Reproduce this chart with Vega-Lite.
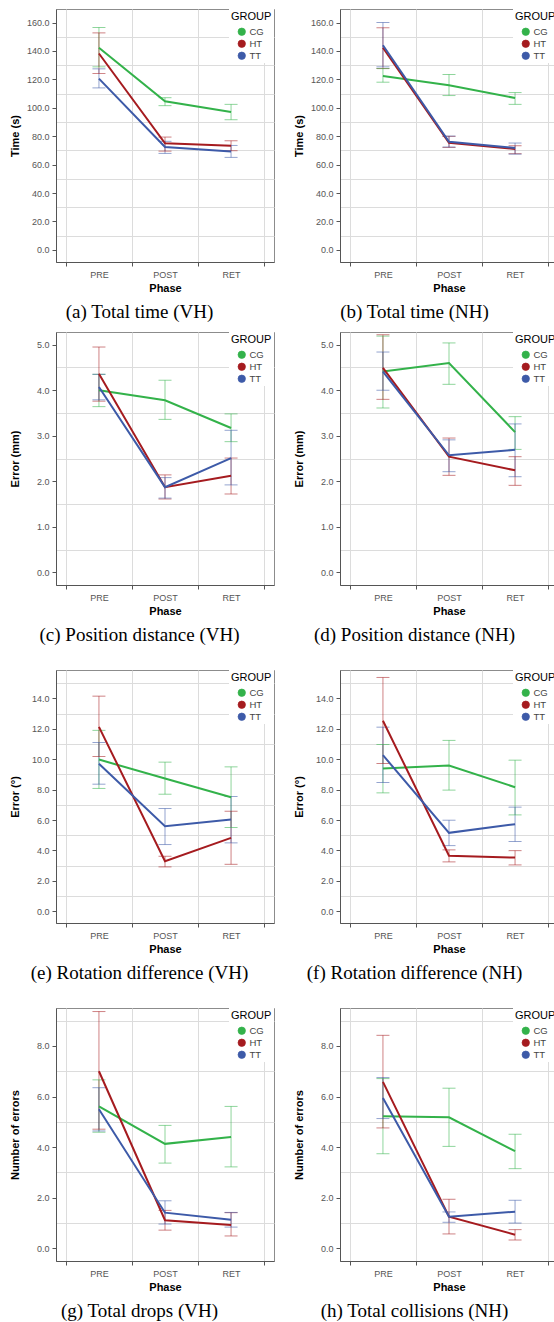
{
  "$schema": "https://vega.github.io/schema/vega-lite/v6.json",
  "padding": {"left": 8, "top": 8, "right": 0, "bottom": 0},
  "background": "white",
  "config": {
    "view": {"stroke": "#8c8c8c", "strokeWidth": 1},
    "axis": {"labelFont": "Liberation Sans", "labelFontSize": 9, "labelColor": "#555", "titleFont": "Liberation Sans", "titleFontSize": 11, "titleFontWeight": "bold", "titleColor": "#000", "domainColor": "#555", "tickColor": "#555", "tickSize": 4, "gridColor": "#dcdcdc", "gridWidth": 1},
    "axisY": {"grid": true, "labelOverlap": false, "labelPadding": 3, "titleX": -41, "titleBaseline": "middle"},
    "axisX": {"labelAngle": 0, "tickBand": "extent", "grid": true, "labelPadding": 4, "titleY": 20, "titleBaseline": "top"},
    "legend": {"orient": "top-right", "offset": 0, "fillColor": "white", "padding": 2, "titleFont": "Liberation Sans", "titleFontSize": 11, "titleFontWeight": "normal", "titleColor": "#000", "titlePadding": 5, "labelFont": "Liberation Sans", "labelFontSize": 9.5, "labelColor": "#444", "labelOffset": 3, "symbolOffset": 6, "symbolType": "circle", "symbolSize": 55, "symbolStrokeColor": "#333", "symbolStrokeWidth": 0.7, "rowPadding": 1},
    "title": {"orient": "bottom", "anchor": "middle", "frame": "bounds", "font": "Liberation Serif", "fontSize": 19, "fontWeight": "normal", "color": "#000", "offset": 10},
    "line": {"strokeWidth": 2}
  },
  "datasets": {
    "d": [
      {"p":"a","group":"CG","phase":"PRE","m":142.2,"lo":128.8,"hi":156.5},
      {"p":"a","group":"CG","phase":"POST","m":104.6,"lo":101.5,"hi":107.1},
      {"p":"a","group":"CG","phase":"RET","m":97.0,"lo":91.6,"hi":102.4},
      {"p":"a","group":"HT","phase":"PRE","m":138.2,"lo":124.1,"hi":152.7},
      {"p":"a","group":"HT","phase":"POST","m":75.0,"lo":69.5,"hi":79.4},
      {"p":"a","group":"HT","phase":"RET","m":73.3,"lo":69.8,"hi":76.8},
      {"p":"a","group":"TT","phase":"PRE","m":120.5,"lo":114.0,"hi":127.4},
      {"p":"a","group":"TT","phase":"POST","m":72.4,"lo":67.9,"hi":76.4},
      {"p":"a","group":"TT","phase":"RET","m":69.3,"lo":65.1,"hi":73.5},

      {"p":"b","group":"CG","phase":"PRE","m":122.4,"lo":118.0,"hi":127.6},
      {"p":"b","group":"CG","phase":"POST","m":115.8,"lo":108.6,"hi":123.4},
      {"p":"b","group":"CG","phase":"RET","m":106.9,"lo":102.4,"hi":110.7},
      {"p":"b","group":"HT","phase":"PRE","m":142.2,"lo":127.6,"hi":156.3},
      {"p":"b","group":"HT","phase":"POST","m":75.4,"lo":72.1,"hi":79.9},
      {"p":"b","group":"HT","phase":"RET","m":71.0,"lo":67.7,"hi":73.3},
      {"p":"b","group":"TT","phase":"PRE","m":144.0,"lo":128.8,"hi":160.0},
      {"p":"b","group":"TT","phase":"POST","m":76.1,"lo":72.4,"hi":80.1},
      {"p":"b","group":"TT","phase":"RET","m":71.7,"lo":67.4,"hi":75.2},

      {"p":"c","group":"CG","phase":"PRE","m":4.0,"lo":3.64,"hi":4.35},
      {"p":"c","group":"CG","phase":"POST","m":3.78,"lo":3.36,"hi":4.22},
      {"p":"c","group":"CG","phase":"RET","m":3.17,"lo":2.87,"hi":3.48},
      {"p":"c","group":"HT","phase":"PRE","m":4.36,"lo":3.76,"hi":4.95},
      {"p":"c","group":"HT","phase":"POST","m":1.87,"lo":1.61,"hi":2.14},
      {"p":"c","group":"HT","phase":"RET","m":2.12,"lo":1.72,"hi":2.51},
      {"p":"c","group":"TT","phase":"PRE","m":4.07,"lo":3.79,"hi":4.35},
      {"p":"c","group":"TT","phase":"POST","m":1.87,"lo":1.63,"hi":2.08},
      {"p":"c","group":"TT","phase":"RET","m":2.51,"lo":1.92,"hi":3.12},

      {"p":"d","group":"CG","phase":"PRE","m":4.41,"lo":3.61,"hi":5.19},
      {"p":"d","group":"CG","phase":"POST","m":4.60,"lo":4.13,"hi":5.04},
      {"p":"d","group":"CG","phase":"RET","m":3.08,"lo":2.70,"hi":3.42},
      {"p":"d","group":"HT","phase":"PRE","m":4.49,"lo":3.80,"hi":5.22},
      {"p":"d","group":"HT","phase":"POST","m":2.54,"lo":2.13,"hi":2.95},
      {"p":"d","group":"HT","phase":"RET","m":2.24,"lo":1.91,"hi":2.54},
      {"p":"d","group":"TT","phase":"PRE","m":4.41,"lo":4.0,"hi":4.84},
      {"p":"d","group":"TT","phase":"POST","m":2.57,"lo":2.21,"hi":2.91},
      {"p":"d","group":"TT","phase":"RET","m":2.69,"lo":2.10,"hi":3.26},

      {"p":"e","group":"CG","phase":"PRE","m":9.98,"lo":8.08,"hi":11.9},
      {"p":"e","group":"CG","phase":"POST","m":8.73,"lo":7.70,"hi":9.81},
      {"p":"e","group":"CG","phase":"RET","m":7.5,"lo":5.51,"hi":9.5},
      {"p":"e","group":"HT","phase":"PRE","m":12.13,"lo":10.18,"hi":14.15},
      {"p":"e","group":"HT","phase":"POST","m":3.29,"lo":2.92,"hi":3.62},
      {"p":"e","group":"HT","phase":"RET","m":4.83,"lo":3.09,"hi":6.58},
      {"p":"e","group":"TT","phase":"PRE","m":9.7,"lo":8.36,"hi":11.1},
      {"p":"e","group":"TT","phase":"POST","m":5.6,"lo":4.39,"hi":6.76},
      {"p":"e","group":"TT","phase":"RET","m":6.03,"lo":4.5,"hi":7.55},

      {"p":"f","group":"CG","phase":"PRE","m":9.39,"lo":7.79,"hi":10.97},
      {"p":"f","group":"CG","phase":"POST","m":9.59,"lo":7.97,"hi":11.24},
      {"p":"f","group":"CG","phase":"RET","m":8.16,"lo":6.34,"hi":9.94},
      {"p":"f","group":"HT","phase":"PRE","m":12.53,"lo":9.72,"hi":15.38},
      {"p":"f","group":"HT","phase":"POST","m":3.66,"lo":3.25,"hi":4.04},
      {"p":"f","group":"HT","phase":"RET","m":3.53,"lo":3.05,"hi":3.99},
      {"p":"f","group":"TT","phase":"PRE","m":10.27,"lo":8.47,"hi":12.11},
      {"p":"f","group":"TT","phase":"POST","m":5.16,"lo":4.32,"hi":5.99},
      {"p":"f","group":"TT","phase":"RET","m":5.73,"lo":4.59,"hi":6.85},

      {"p":"g","group":"CG","phase":"PRE","m":5.61,"lo":4.59,"hi":6.66},
      {"p":"g","group":"CG","phase":"POST","m":4.13,"lo":3.37,"hi":4.86},
      {"p":"g","group":"CG","phase":"RET","m":4.40,"lo":3.22,"hi":5.61},
      {"p":"g","group":"HT","phase":"PRE","m":7.0,"lo":4.71,"hi":9.36},
      {"p":"g","group":"HT","phase":"POST","m":1.11,"lo":0.72,"hi":1.50},
      {"p":"g","group":"HT","phase":"RET","m":0.92,"lo":0.49,"hi":1.41},
      {"p":"g","group":"TT","phase":"PRE","m":5.50,"lo":4.64,"hi":6.35},
      {"p":"g","group":"TT","phase":"POST","m":1.41,"lo":0.96,"hi":1.88},
      {"p":"g","group":"TT","phase":"RET","m":1.13,"lo":0.84,"hi":1.42},

      {"p":"h","group":"CG","phase":"PRE","m":5.22,"lo":3.74,"hi":6.71},
      {"p":"h","group":"CG","phase":"POST","m":5.18,"lo":4.03,"hi":6.33},
      {"p":"h","group":"CG","phase":"RET","m":3.84,"lo":3.15,"hi":4.51},
      {"p":"h","group":"HT","phase":"PRE","m":6.58,"lo":4.76,"hi":8.42},
      {"p":"h","group":"HT","phase":"POST","m":1.25,"lo":0.57,"hi":1.94},
      {"p":"h","group":"HT","phase":"RET","m":0.54,"lo":0.33,"hi":0.74},
      {"p":"h","group":"TT","phase":"PRE","m":5.94,"lo":5.13,"hi":6.75},
      {"p":"h","group":"TT","phase":"POST","m":1.25,"lo":1.03,"hi":1.44},
      {"p":"h","group":"TT","phase":"RET","m":1.45,"lo":1.0,"hi":1.90}
    ]
  },
  "data": {"name": "d"},
  "spacing": 8,
  "resolve": {"scale": {"color": "independent"}, "legend": {"color": "independent"}},
  "vconcat": [
    {
      "spacing": 17,
      "resolve": {"scale": {"color": "independent"}, "legend": {"color": "independent"}},
      "hconcat": [
        {
          "width": 218, "height": 253,
          "title": {"text": "(a) Total time (VH)", "dx": -2},
          "transform": [{"filter": "datum.p === 'a'"}],
          "encoding": {
            "x": {"field": "phase", "type": "nominal", "sort": ["PRE","POST","RET"], "bandPosition": 0.5, "scale": {"type": "band", "paddingInner": 0, "paddingOuter": 0.15}, "title": "Phase"},
            "color": {"field": "group", "type": "nominal", "scale": {"domain": ["CG","HT","TT"], "range": ["#33b24a","#a51b1f","#3d5aa8"]}, "legend": {"title": "GROUP"}}
          },
          "layer": [
            {"mark": {"type": "circle", "size": 0, "opacity": 1}, "encoding": {"y": {"field": "m", "type": "quantitative", "title": "Time (s)", "scale": {"domain": [-8.5, 169.5], "nice": false, "zero": false}, "axis": {"values": [0,10,20,30,40,50,60,70,80,90,100,110,120,130,140,150,160], "labelExpr": "datum.value % 20 === 0 ? format(datum.value, '.1f') : ''", "gridColor": {"condition": {"test": "datum.value % 20 !== 0", "value": "#dcdcdc"}, "value": "transparent"}, "tickColor": {"condition": {"test": "datum.value % 20 === 0", "value": "#555"}, "value": "transparent"}}}}},
            {"mark": {"type": "rule", "opacity": 0.55}, "encoding": {"y": {"field": "lo", "type": "quantitative", "title": "Time (s)", "axis": {"values": [0,10,20,30,40,50,60,70,80,90,100,110,120,130,140,150,160], "labelExpr": "datum.value % 20 === 0 ? format(datum.value, '.1f') : ''", "gridColor": {"condition": {"test": "datum.value % 20 !== 0", "value": "#dcdcdc"}, "value": "transparent"}, "tickColor": {"condition": {"test": "datum.value % 20 === 0", "value": "#555"}, "value": "transparent"}}}, "y2": {"field": "hi"}}},
            {"mark": {"type": "tick", "orient": "horizontal", "size": 13, "thickness": 1, "opacity": 0.55}, "encoding": {"y": {"field": "lo", "type": "quantitative", "title": "Time (s)", "axis": {"values": [0,10,20,30,40,50,60,70,80,90,100,110,120,130,140,150,160], "labelExpr": "datum.value % 20 === 0 ? format(datum.value, '.1f') : ''", "gridColor": {"condition": {"test": "datum.value % 20 !== 0", "value": "#dcdcdc"}, "value": "transparent"}, "tickColor": {"condition": {"test": "datum.value % 20 === 0", "value": "#555"}, "value": "transparent"}}}}},
            {"mark": {"type": "tick", "orient": "horizontal", "size": 13, "thickness": 1, "opacity": 0.55}, "encoding": {"y": {"field": "hi", "type": "quantitative", "title": "Time (s)", "axis": {"values": [0,10,20,30,40,50,60,70,80,90,100,110,120,130,140,150,160], "labelExpr": "datum.value % 20 === 0 ? format(datum.value, '.1f') : ''", "gridColor": {"condition": {"test": "datum.value % 20 !== 0", "value": "#dcdcdc"}, "value": "transparent"}, "tickColor": {"condition": {"test": "datum.value % 20 === 0", "value": "#555"}, "value": "transparent"}}}}},
            {"mark": {"type": "line"}, "encoding": {"y": {"field": "m", "type": "quantitative", "title": "Time (s)", "axis": {"values": [0,10,20,30,40,50,60,70,80,90,100,110,120,130,140,150,160], "labelExpr": "datum.value % 20 === 0 ? format(datum.value, '.1f') : ''", "gridColor": {"condition": {"test": "datum.value % 20 !== 0", "value": "#dcdcdc"}, "value": "transparent"}, "tickColor": {"condition": {"test": "datum.value % 20 === 0", "value": "#555"}, "value": "transparent"}}}, "order": {"value": null}}}
          ]
        },
        {
          "width": 218, "height": 253,
          "title": {"text": "(b) Total time (NH)", "dx": -11},
          "transform": [{"filter": "datum.p === 'b'"}],
          "encoding": {
            "x": {"field": "phase", "type": "nominal", "sort": ["PRE","POST","RET"], "bandPosition": 0.5, "scale": {"type": "band", "paddingInner": 0, "paddingOuter": 0.15}, "title": "Phase"},
            "color": {"field": "group", "type": "nominal", "scale": {"domain": ["CG","HT","TT"], "range": ["#33b24a","#a51b1f","#3d5aa8"]}, "legend": {"title": "GROUP"}}
          },
          "layer": [
            {"mark": {"type": "circle", "size": 0, "opacity": 1}, "encoding": {"y": {"field": "m", "type": "quantitative", "title": "Time (s)", "scale": {"domain": [-8.5, 169.5], "nice": false, "zero": false}, "axis": {"values": [0,10,20,30,40,50,60,70,80,90,100,110,120,130,140,150,160], "labelExpr": "datum.value % 20 === 0 ? format(datum.value, '.1f') : ''", "gridColor": {"condition": {"test": "datum.value % 20 !== 0", "value": "#dcdcdc"}, "value": "transparent"}, "tickColor": {"condition": {"test": "datum.value % 20 === 0", "value": "#555"}, "value": "transparent"}}}}},
            {"mark": {"type": "rule", "opacity": 0.55}, "encoding": {"y": {"field": "lo", "type": "quantitative", "title": "Time (s)", "axis": {"values": [0,10,20,30,40,50,60,70,80,90,100,110,120,130,140,150,160], "labelExpr": "datum.value % 20 === 0 ? format(datum.value, '.1f') : ''", "gridColor": {"condition": {"test": "datum.value % 20 !== 0", "value": "#dcdcdc"}, "value": "transparent"}, "tickColor": {"condition": {"test": "datum.value % 20 === 0", "value": "#555"}, "value": "transparent"}}}, "y2": {"field": "hi"}}},
            {"mark": {"type": "tick", "orient": "horizontal", "size": 13, "thickness": 1, "opacity": 0.55}, "encoding": {"y": {"field": "lo", "type": "quantitative", "title": "Time (s)", "axis": {"values": [0,10,20,30,40,50,60,70,80,90,100,110,120,130,140,150,160], "labelExpr": "datum.value % 20 === 0 ? format(datum.value, '.1f') : ''", "gridColor": {"condition": {"test": "datum.value % 20 !== 0", "value": "#dcdcdc"}, "value": "transparent"}, "tickColor": {"condition": {"test": "datum.value % 20 === 0", "value": "#555"}, "value": "transparent"}}}}},
            {"mark": {"type": "tick", "orient": "horizontal", "size": 13, "thickness": 1, "opacity": 0.55}, "encoding": {"y": {"field": "hi", "type": "quantitative", "title": "Time (s)", "axis": {"values": [0,10,20,30,40,50,60,70,80,90,100,110,120,130,140,150,160], "labelExpr": "datum.value % 20 === 0 ? format(datum.value, '.1f') : ''", "gridColor": {"condition": {"test": "datum.value % 20 !== 0", "value": "#dcdcdc"}, "value": "transparent"}, "tickColor": {"condition": {"test": "datum.value % 20 === 0", "value": "#555"}, "value": "transparent"}}}}},
            {"mark": {"type": "line"}, "encoding": {"y": {"field": "m", "type": "quantitative", "title": "Time (s)", "axis": {"values": [0,10,20,30,40,50,60,70,80,90,100,110,120,130,140,150,160], "labelExpr": "datum.value % 20 === 0 ? format(datum.value, '.1f') : ''", "gridColor": {"condition": {"test": "datum.value % 20 !== 0", "value": "#dcdcdc"}, "value": "transparent"}, "tickColor": {"condition": {"test": "datum.value % 20 === 0", "value": "#555"}, "value": "transparent"}}}, "order": {"value": null}}}
          ]
        }
      ]
    },
    {
      "spacing": 23,
      "resolve": {"scale": {"color": "independent"}, "legend": {"color": "independent"}},
      "vconcat": [
        {
          "spacing": 17,
          "resolve": {"scale": {"color": "independent"}, "legend": {"color": "independent"}},
          "hconcat": [
            {
              "width": 218, "height": 253,
              "title": {"text": "(c) Position distance (VH)", "dx": -2},
              "transform": [{"filter": "datum.p === 'c'"}],
              "encoding": {
                "x": {"field": "phase", "type": "nominal", "sort": ["PRE","POST","RET"], "bandPosition": 0.5, "scale": {"type": "band", "paddingInner": 0, "paddingOuter": 0.15}, "title": "Phase"},
                "color": {"field": "group", "type": "nominal", "scale": {"domain": ["CG","HT","TT"], "range": ["#33b24a","#a51b1f","#3d5aa8"]}, "legend": {"title": "GROUP"}}
              },
              "layer": [
                {"mark": {"type": "circle", "size": 0, "opacity": 1}, "encoding": {"y": {"field": "m", "type": "quantitative", "title": "Error (mm)", "scale": {"domain": [-0.28, 5.28], "nice": false, "zero": false}, "axis": {"values": [0,0.5,1,1.5,2,2.5,3,3.5,4,4.5,5], "labelExpr": "datum.value % 1 === 0 ? format(datum.value, '.1f') : ''", "gridColor": {"condition": {"test": "datum.value % 1 !== 0", "value": "#dcdcdc"}, "value": "transparent"}, "tickColor": {"condition": {"test": "datum.value % 1 === 0", "value": "#555"}, "value": "transparent"}}}}},
                {"mark": {"type": "rule", "opacity": 0.55}, "encoding": {"y": {"field": "lo", "type": "quantitative", "title": "Error (mm)", "axis": {"values": [0,0.5,1,1.5,2,2.5,3,3.5,4,4.5,5], "labelExpr": "datum.value % 1 === 0 ? format(datum.value, '.1f') : ''", "gridColor": {"condition": {"test": "datum.value % 1 !== 0", "value": "#dcdcdc"}, "value": "transparent"}, "tickColor": {"condition": {"test": "datum.value % 1 === 0", "value": "#555"}, "value": "transparent"}}}, "y2": {"field": "hi"}}},
                {"mark": {"type": "tick", "orient": "horizontal", "size": 13, "thickness": 1, "opacity": 0.55}, "encoding": {"y": {"field": "lo", "type": "quantitative", "title": "Error (mm)", "axis": {"values": [0,0.5,1,1.5,2,2.5,3,3.5,4,4.5,5], "labelExpr": "datum.value % 1 === 0 ? format(datum.value, '.1f') : ''", "gridColor": {"condition": {"test": "datum.value % 1 !== 0", "value": "#dcdcdc"}, "value": "transparent"}, "tickColor": {"condition": {"test": "datum.value % 1 === 0", "value": "#555"}, "value": "transparent"}}}}},
                {"mark": {"type": "tick", "orient": "horizontal", "size": 13, "thickness": 1, "opacity": 0.55}, "encoding": {"y": {"field": "hi", "type": "quantitative", "title": "Error (mm)", "axis": {"values": [0,0.5,1,1.5,2,2.5,3,3.5,4,4.5,5], "labelExpr": "datum.value % 1 === 0 ? format(datum.value, '.1f') : ''", "gridColor": {"condition": {"test": "datum.value % 1 !== 0", "value": "#dcdcdc"}, "value": "transparent"}, "tickColor": {"condition": {"test": "datum.value % 1 === 0", "value": "#555"}, "value": "transparent"}}}}},
                {"mark": {"type": "line"}, "encoding": {"y": {"field": "m", "type": "quantitative", "title": "Error (mm)", "axis": {"values": [0,0.5,1,1.5,2,2.5,3,3.5,4,4.5,5], "labelExpr": "datum.value % 1 === 0 ? format(datum.value, '.1f') : ''", "gridColor": {"condition": {"test": "datum.value % 1 !== 0", "value": "#dcdcdc"}, "value": "transparent"}, "tickColor": {"condition": {"test": "datum.value % 1 === 0", "value": "#555"}, "value": "transparent"}}}, "order": {"value": null}}}
              ]
            },
            {
              "width": 218, "height": 253,
              "title": {"text": "(d) Position distance (NH)", "dx": -11},
              "transform": [{"filter": "datum.p === 'd'"}],
              "encoding": {
                "x": {"field": "phase", "type": "nominal", "sort": ["PRE","POST","RET"], "bandPosition": 0.5, "scale": {"type": "band", "paddingInner": 0, "paddingOuter": 0.15}, "title": "Phase"},
                "color": {"field": "group", "type": "nominal", "scale": {"domain": ["CG","HT","TT"], "range": ["#33b24a","#a51b1f","#3d5aa8"]}, "legend": {"title": "GROUP"}}
              },
              "layer": [
                {"mark": {"type": "circle", "size": 0, "opacity": 1}, "encoding": {"y": {"field": "m", "type": "quantitative", "title": "Error (mm)", "scale": {"domain": [-0.28, 5.28], "nice": false, "zero": false}, "axis": {"values": [0,0.5,1,1.5,2,2.5,3,3.5,4,4.5,5], "labelExpr": "datum.value % 1 === 0 ? format(datum.value, '.1f') : ''", "gridColor": {"condition": {"test": "datum.value % 1 !== 0", "value": "#dcdcdc"}, "value": "transparent"}, "tickColor": {"condition": {"test": "datum.value % 1 === 0", "value": "#555"}, "value": "transparent"}}}}},
                {"mark": {"type": "rule", "opacity": 0.55}, "encoding": {"y": {"field": "lo", "type": "quantitative", "title": "Error (mm)", "axis": {"values": [0,0.5,1,1.5,2,2.5,3,3.5,4,4.5,5], "labelExpr": "datum.value % 1 === 0 ? format(datum.value, '.1f') : ''", "gridColor": {"condition": {"test": "datum.value % 1 !== 0", "value": "#dcdcdc"}, "value": "transparent"}, "tickColor": {"condition": {"test": "datum.value % 1 === 0", "value": "#555"}, "value": "transparent"}}}, "y2": {"field": "hi"}}},
                {"mark": {"type": "tick", "orient": "horizontal", "size": 13, "thickness": 1, "opacity": 0.55}, "encoding": {"y": {"field": "lo", "type": "quantitative", "title": "Error (mm)", "axis": {"values": [0,0.5,1,1.5,2,2.5,3,3.5,4,4.5,5], "labelExpr": "datum.value % 1 === 0 ? format(datum.value, '.1f') : ''", "gridColor": {"condition": {"test": "datum.value % 1 !== 0", "value": "#dcdcdc"}, "value": "transparent"}, "tickColor": {"condition": {"test": "datum.value % 1 === 0", "value": "#555"}, "value": "transparent"}}}}},
                {"mark": {"type": "tick", "orient": "horizontal", "size": 13, "thickness": 1, "opacity": 0.55}, "encoding": {"y": {"field": "hi", "type": "quantitative", "title": "Error (mm)", "axis": {"values": [0,0.5,1,1.5,2,2.5,3,3.5,4,4.5,5], "labelExpr": "datum.value % 1 === 0 ? format(datum.value, '.1f') : ''", "gridColor": {"condition": {"test": "datum.value % 1 !== 0", "value": "#dcdcdc"}, "value": "transparent"}, "tickColor": {"condition": {"test": "datum.value % 1 === 0", "value": "#555"}, "value": "transparent"}}}}},
                {"mark": {"type": "line"}, "encoding": {"y": {"field": "m", "type": "quantitative", "title": "Error (mm)", "axis": {"values": [0,0.5,1,1.5,2,2.5,3,3.5,4,4.5,5], "labelExpr": "datum.value % 1 === 0 ? format(datum.value, '.1f') : ''", "gridColor": {"condition": {"test": "datum.value % 1 !== 0", "value": "#dcdcdc"}, "value": "transparent"}, "tickColor": {"condition": {"test": "datum.value % 1 === 0", "value": "#555"}, "value": "transparent"}}}, "order": {"value": null}}}
              ]
            }
          ]
        },
        {
          "spacing": 17,
          "resolve": {"scale": {"color": "independent"}, "legend": {"color": "independent"}},
          "hconcat": [
            {
              "width": 218, "height": 253,
              "title": {"text": "(e) Rotation difference (VH)", "dx": -2},
              "transform": [{"filter": "datum.p === 'e'"}],
              "encoding": {
                "x": {"field": "phase", "type": "nominal", "sort": ["PRE","POST","RET"], "bandPosition": 0.5, "scale": {"type": "band", "paddingInner": 0, "paddingOuter": 0.15}, "title": "Phase"},
                "color": {"field": "group", "type": "nominal", "scale": {"domain": ["CG","HT","TT"], "range": ["#33b24a","#a51b1f","#3d5aa8"]}, "legend": {"title": "GROUP"}}
              },
              "layer": [
                {"mark": {"type": "circle", "size": 0, "opacity": 1}, "encoding": {"y": {"field": "m", "type": "quantitative", "title": "Error (°)", "scale": {"domain": [-0.77, 15.87], "nice": false, "zero": false}, "axis": {"values": [0,1,2,3,4,5,6,7,8,9,10,11,12,13,14,15], "labelExpr": "datum.value % 2 === 0 ? format(datum.value, '.1f') : ''", "gridColor": {"condition": {"test": "datum.value % 2 !== 0", "value": "#dcdcdc"}, "value": "transparent"}, "tickColor": {"condition": {"test": "datum.value % 2 === 0", "value": "#555"}, "value": "transparent"}}}}},
                {"mark": {"type": "rule", "opacity": 0.55}, "encoding": {"y": {"field": "lo", "type": "quantitative", "title": "Error (°)", "axis": {"values": [0,1,2,3,4,5,6,7,8,9,10,11,12,13,14,15], "labelExpr": "datum.value % 2 === 0 ? format(datum.value, '.1f') : ''", "gridColor": {"condition": {"test": "datum.value % 2 !== 0", "value": "#dcdcdc"}, "value": "transparent"}, "tickColor": {"condition": {"test": "datum.value % 2 === 0", "value": "#555"}, "value": "transparent"}}}, "y2": {"field": "hi"}}},
                {"mark": {"type": "tick", "orient": "horizontal", "size": 13, "thickness": 1, "opacity": 0.55}, "encoding": {"y": {"field": "lo", "type": "quantitative", "title": "Error (°)", "axis": {"values": [0,1,2,3,4,5,6,7,8,9,10,11,12,13,14,15], "labelExpr": "datum.value % 2 === 0 ? format(datum.value, '.1f') : ''", "gridColor": {"condition": {"test": "datum.value % 2 !== 0", "value": "#dcdcdc"}, "value": "transparent"}, "tickColor": {"condition": {"test": "datum.value % 2 === 0", "value": "#555"}, "value": "transparent"}}}}},
                {"mark": {"type": "tick", "orient": "horizontal", "size": 13, "thickness": 1, "opacity": 0.55}, "encoding": {"y": {"field": "hi", "type": "quantitative", "title": "Error (°)", "axis": {"values": [0,1,2,3,4,5,6,7,8,9,10,11,12,13,14,15], "labelExpr": "datum.value % 2 === 0 ? format(datum.value, '.1f') : ''", "gridColor": {"condition": {"test": "datum.value % 2 !== 0", "value": "#dcdcdc"}, "value": "transparent"}, "tickColor": {"condition": {"test": "datum.value % 2 === 0", "value": "#555"}, "value": "transparent"}}}}},
                {"mark": {"type": "line"}, "encoding": {"y": {"field": "m", "type": "quantitative", "title": "Error (°)", "axis": {"values": [0,1,2,3,4,5,6,7,8,9,10,11,12,13,14,15], "labelExpr": "datum.value % 2 === 0 ? format(datum.value, '.1f') : ''", "gridColor": {"condition": {"test": "datum.value % 2 !== 0", "value": "#dcdcdc"}, "value": "transparent"}, "tickColor": {"condition": {"test": "datum.value % 2 === 0", "value": "#555"}, "value": "transparent"}}}, "order": {"value": null}}}
              ]
            },
            {
              "width": 218, "height": 253,
              "title": {"text": "(f) Rotation difference (NH)", "dx": -11},
              "transform": [{"filter": "datum.p === 'f'"}],
              "encoding": {
                "x": {"field": "phase", "type": "nominal", "sort": ["PRE","POST","RET"], "bandPosition": 0.5, "scale": {"type": "band", "paddingInner": 0, "paddingOuter": 0.15}, "title": "Phase"},
                "color": {"field": "group", "type": "nominal", "scale": {"domain": ["CG","HT","TT"], "range": ["#33b24a","#a51b1f","#3d5aa8"]}, "legend": {"title": "GROUP"}}
              },
              "layer": [
                {"mark": {"type": "circle", "size": 0, "opacity": 1}, "encoding": {"y": {"field": "m", "type": "quantitative", "title": "Error (°)", "scale": {"domain": [-0.77, 15.87], "nice": false, "zero": false}, "axis": {"values": [0,1,2,3,4,5,6,7,8,9,10,11,12,13,14,15], "labelExpr": "datum.value % 2 === 0 ? format(datum.value, '.1f') : ''", "gridColor": {"condition": {"test": "datum.value % 2 !== 0", "value": "#dcdcdc"}, "value": "transparent"}, "tickColor": {"condition": {"test": "datum.value % 2 === 0", "value": "#555"}, "value": "transparent"}}}}},
                {"mark": {"type": "rule", "opacity": 0.55}, "encoding": {"y": {"field": "lo", "type": "quantitative", "title": "Error (°)", "axis": {"values": [0,1,2,3,4,5,6,7,8,9,10,11,12,13,14,15], "labelExpr": "datum.value % 2 === 0 ? format(datum.value, '.1f') : ''", "gridColor": {"condition": {"test": "datum.value % 2 !== 0", "value": "#dcdcdc"}, "value": "transparent"}, "tickColor": {"condition": {"test": "datum.value % 2 === 0", "value": "#555"}, "value": "transparent"}}}, "y2": {"field": "hi"}}},
                {"mark": {"type": "tick", "orient": "horizontal", "size": 13, "thickness": 1, "opacity": 0.55}, "encoding": {"y": {"field": "lo", "type": "quantitative", "title": "Error (°)", "axis": {"values": [0,1,2,3,4,5,6,7,8,9,10,11,12,13,14,15], "labelExpr": "datum.value % 2 === 0 ? format(datum.value, '.1f') : ''", "gridColor": {"condition": {"test": "datum.value % 2 !== 0", "value": "#dcdcdc"}, "value": "transparent"}, "tickColor": {"condition": {"test": "datum.value % 2 === 0", "value": "#555"}, "value": "transparent"}}}}},
                {"mark": {"type": "tick", "orient": "horizontal", "size": 13, "thickness": 1, "opacity": 0.55}, "encoding": {"y": {"field": "hi", "type": "quantitative", "title": "Error (°)", "axis": {"values": [0,1,2,3,4,5,6,7,8,9,10,11,12,13,14,15], "labelExpr": "datum.value % 2 === 0 ? format(datum.value, '.1f') : ''", "gridColor": {"condition": {"test": "datum.value % 2 !== 0", "value": "#dcdcdc"}, "value": "transparent"}, "tickColor": {"condition": {"test": "datum.value % 2 === 0", "value": "#555"}, "value": "transparent"}}}}},
                {"mark": {"type": "line"}, "encoding": {"y": {"field": "m", "type": "quantitative", "title": "Error (°)", "axis": {"values": [0,1,2,3,4,5,6,7,8,9,10,11,12,13,14,15], "labelExpr": "datum.value % 2 === 0 ? format(datum.value, '.1f') : ''", "gridColor": {"condition": {"test": "datum.value % 2 !== 0", "value": "#dcdcdc"}, "value": "transparent"}, "tickColor": {"condition": {"test": "datum.value % 2 === 0", "value": "#555"}, "value": "transparent"}}}, "order": {"value": null}}}
              ]
            }
          ]
        },
        {
          "spacing": 17,
          "resolve": {"scale": {"color": "independent"}, "legend": {"color": "independent"}},
          "hconcat": [
            {
              "width": 218, "height": 253,
              "title": {"text": "(g) Total drops (VH)", "dx": -2},
              "transform": [{"filter": "datum.p === 'g'"}],
              "encoding": {
                "x": {"field": "phase", "type": "nominal", "sort": ["PRE","POST","RET"], "bandPosition": 0.5, "scale": {"type": "band", "paddingInner": 0, "paddingOuter": 0.15}, "title": "Phase"},
                "color": {"field": "group", "type": "nominal", "scale": {"domain": ["CG","HT","TT"], "range": ["#33b24a","#a51b1f","#3d5aa8"]}, "legend": {"title": "GROUP"}}
              },
              "layer": [
                {"mark": {"type": "circle", "size": 0, "opacity": 1}, "encoding": {"y": {"field": "m", "type": "quantitative", "title": "Number of errors", "scale": {"domain": [-0.5, 9.5], "nice": false, "zero": false}, "axis": {"values": [0,1,2,3,4,5,6,7,8,9], "labelExpr": "datum.value % 2 === 0 ? format(datum.value, '.1f') : ''", "gridColor": {"condition": {"test": "datum.value % 2 !== 0", "value": "#dcdcdc"}, "value": "transparent"}, "tickColor": {"condition": {"test": "datum.value % 2 === 0", "value": "#555"}, "value": "transparent"}}}}},
                {"mark": {"type": "rule", "opacity": 0.55}, "encoding": {"y": {"field": "lo", "type": "quantitative", "title": "Number of errors", "axis": {"values": [0,1,2,3,4,5,6,7,8,9], "labelExpr": "datum.value % 2 === 0 ? format(datum.value, '.1f') : ''", "gridColor": {"condition": {"test": "datum.value % 2 !== 0", "value": "#dcdcdc"}, "value": "transparent"}, "tickColor": {"condition": {"test": "datum.value % 2 === 0", "value": "#555"}, "value": "transparent"}}}, "y2": {"field": "hi"}}},
                {"mark": {"type": "tick", "orient": "horizontal", "size": 13, "thickness": 1, "opacity": 0.55}, "encoding": {"y": {"field": "lo", "type": "quantitative", "title": "Number of errors", "axis": {"values": [0,1,2,3,4,5,6,7,8,9], "labelExpr": "datum.value % 2 === 0 ? format(datum.value, '.1f') : ''", "gridColor": {"condition": {"test": "datum.value % 2 !== 0", "value": "#dcdcdc"}, "value": "transparent"}, "tickColor": {"condition": {"test": "datum.value % 2 === 0", "value": "#555"}, "value": "transparent"}}}}},
                {"mark": {"type": "tick", "orient": "horizontal", "size": 13, "thickness": 1, "opacity": 0.55}, "encoding": {"y": {"field": "hi", "type": "quantitative", "title": "Number of errors", "axis": {"values": [0,1,2,3,4,5,6,7,8,9], "labelExpr": "datum.value % 2 === 0 ? format(datum.value, '.1f') : ''", "gridColor": {"condition": {"test": "datum.value % 2 !== 0", "value": "#dcdcdc"}, "value": "transparent"}, "tickColor": {"condition": {"test": "datum.value % 2 === 0", "value": "#555"}, "value": "transparent"}}}}},
                {"mark": {"type": "line"}, "encoding": {"y": {"field": "m", "type": "quantitative", "title": "Number of errors", "axis": {"values": [0,1,2,3,4,5,6,7,8,9], "labelExpr": "datum.value % 2 === 0 ? format(datum.value, '.1f') : ''", "gridColor": {"condition": {"test": "datum.value % 2 !== 0", "value": "#dcdcdc"}, "value": "transparent"}, "tickColor": {"condition": {"test": "datum.value % 2 === 0", "value": "#555"}, "value": "transparent"}}}, "order": {"value": null}}}
              ]
            },
            {
              "width": 218, "height": 253,
              "title": {"text": "(h) Total collisions (NH)", "dx": -11},
              "transform": [{"filter": "datum.p === 'h'"}],
              "encoding": {
                "x": {"field": "phase", "type": "nominal", "sort": ["PRE","POST","RET"], "bandPosition": 0.5, "scale": {"type": "band", "paddingInner": 0, "paddingOuter": 0.15}, "title": "Phase"},
                "color": {"field": "group", "type": "nominal", "scale": {"domain": ["CG","HT","TT"], "range": ["#33b24a","#a51b1f","#3d5aa8"]}, "legend": {"title": "GROUP"}}
              },
              "layer": [
                {"mark": {"type": "circle", "size": 0, "opacity": 1}, "encoding": {"y": {"field": "m", "type": "quantitative", "title": "Number of errors", "scale": {"domain": [-0.5, 9.5], "nice": false, "zero": false}, "axis": {"values": [0,1,2,3,4,5,6,7,8,9], "labelExpr": "datum.value % 2 === 0 ? format(datum.value, '.1f') : ''", "gridColor": {"condition": {"test": "datum.value % 2 !== 0", "value": "#dcdcdc"}, "value": "transparent"}, "tickColor": {"condition": {"test": "datum.value % 2 === 0", "value": "#555"}, "value": "transparent"}}}}},
                {"mark": {"type": "rule", "opacity": 0.55}, "encoding": {"y": {"field": "lo", "type": "quantitative", "title": "Number of errors", "axis": {"values": [0,1,2,3,4,5,6,7,8,9], "labelExpr": "datum.value % 2 === 0 ? format(datum.value, '.1f') : ''", "gridColor": {"condition": {"test": "datum.value % 2 !== 0", "value": "#dcdcdc"}, "value": "transparent"}, "tickColor": {"condition": {"test": "datum.value % 2 === 0", "value": "#555"}, "value": "transparent"}}}, "y2": {"field": "hi"}}},
                {"mark": {"type": "tick", "orient": "horizontal", "size": 13, "thickness": 1, "opacity": 0.55}, "encoding": {"y": {"field": "lo", "type": "quantitative", "title": "Number of errors", "axis": {"values": [0,1,2,3,4,5,6,7,8,9], "labelExpr": "datum.value % 2 === 0 ? format(datum.value, '.1f') : ''", "gridColor": {"condition": {"test": "datum.value % 2 !== 0", "value": "#dcdcdc"}, "value": "transparent"}, "tickColor": {"condition": {"test": "datum.value % 2 === 0", "value": "#555"}, "value": "transparent"}}}}},
                {"mark": {"type": "tick", "orient": "horizontal", "size": 13, "thickness": 1, "opacity": 0.55}, "encoding": {"y": {"field": "hi", "type": "quantitative", "title": "Number of errors", "axis": {"values": [0,1,2,3,4,5,6,7,8,9], "labelExpr": "datum.value % 2 === 0 ? format(datum.value, '.1f') : ''", "gridColor": {"condition": {"test": "datum.value % 2 !== 0", "value": "#dcdcdc"}, "value": "transparent"}, "tickColor": {"condition": {"test": "datum.value % 2 === 0", "value": "#555"}, "value": "transparent"}}}}},
                {"mark": {"type": "line"}, "encoding": {"y": {"field": "m", "type": "quantitative", "title": "Number of errors", "axis": {"values": [0,1,2,3,4,5,6,7,8,9], "labelExpr": "datum.value % 2 === 0 ? format(datum.value, '.1f') : ''", "gridColor": {"condition": {"test": "datum.value % 2 !== 0", "value": "#dcdcdc"}, "value": "transparent"}, "tickColor": {"condition": {"test": "datum.value % 2 === 0", "value": "#555"}, "value": "transparent"}}}, "order": {"value": null}}}
              ]
            }
          ]
        }
      ]
    }
  ]
}
